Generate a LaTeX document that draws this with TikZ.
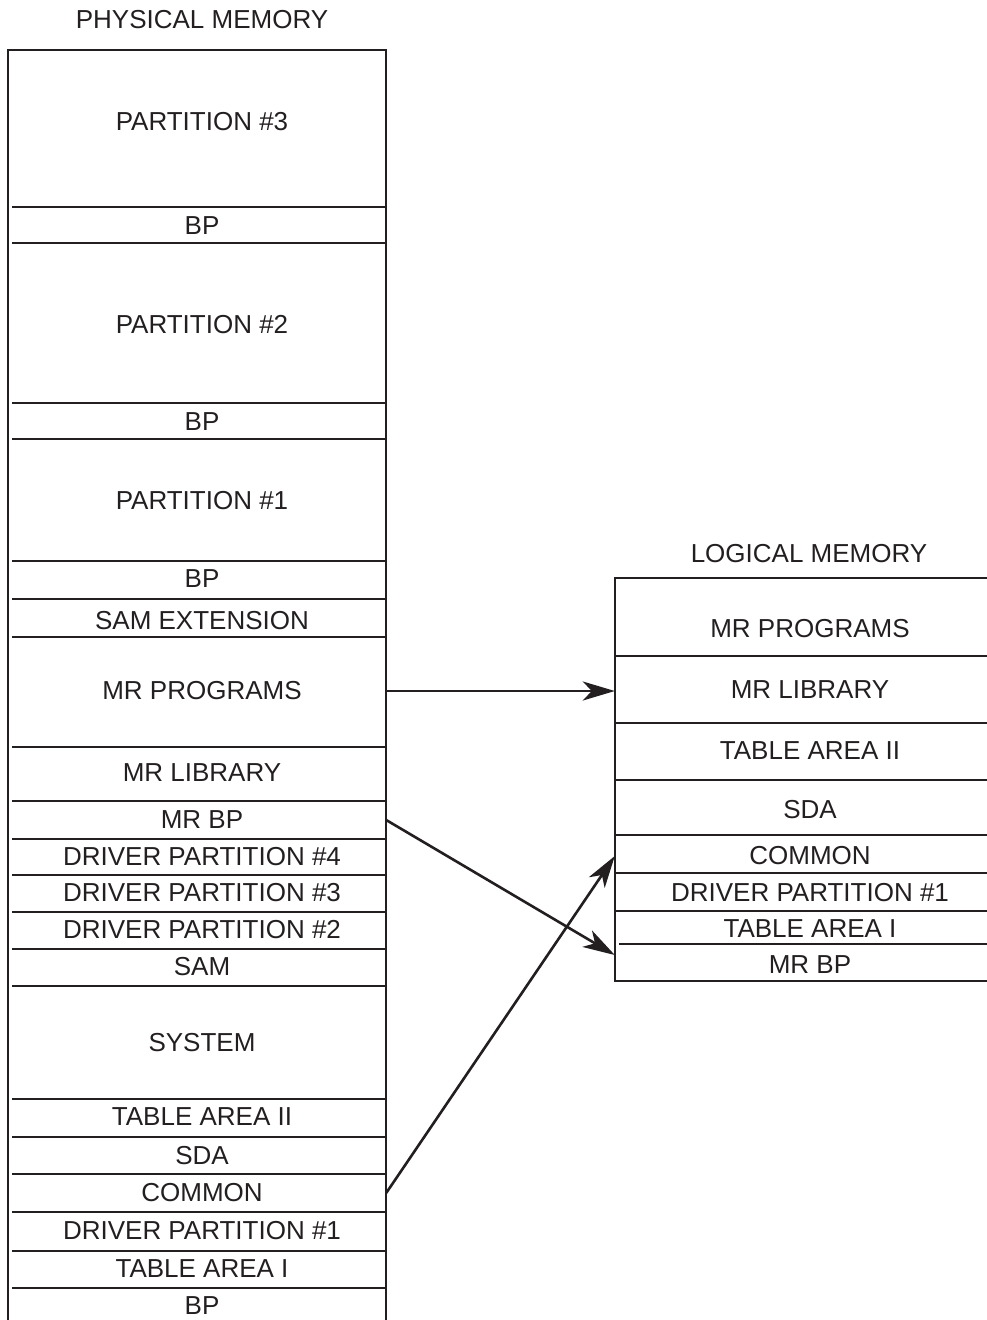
\documentclass[tikz,border=0pt]{standalone}
\usepackage{fontspec}
\setmainfont{Liberation Sans}
\usetikzlibrary{arrows.meta}
\definecolor{ink}{HTML}{231F20}
\begin{document}
\begin{tikzpicture}[x=1pt,y=-1pt, color=ink,
  lbl/.style={inner sep=0pt, text=ink, font=\fontsize{26}{31}\selectfont},
  pcell/.style={lbl, minimum width=368pt},
  lcell/.style={lbl, minimum width=390pt},
  wall/.style={draw=ink, line width=2.8pt, line cap=rect},
  sep/.style={draw=ink, line width=2.8pt},
  conn/.style={draw=ink, line width=2.6pt, -{Stealth[length=32pt,width=19pt,inset=9pt]}}]
\useasboundingbox (0,0) rectangle (986,1320);
% physical memory column
\draw[wall] (8,1322) -- (8,50) -- (386,50) -- (386,1322);
\foreach \y in {207,243,403,439,561,599,637,747,801,839,875,912,949,986,1099,1137,1174,1212,1251,1288}
  \draw[sep] (12,\y) -- (386,\y);
% logical memory column
\draw[wall] (988,578) -- (615,578) -- (615,981) -- (988,981);
\foreach \y in {656,723,780,835,873,911}
  \draw[sep] (615,\y) -- (988,\y);
\draw[sep] (619,944) -- (988,944);
% titles
\node[lbl] (ptitle) at (202,20) {PHYSICAL MEMORY};
\node[lbl] (ltitle) at (809,554) {LOGICAL MEMORY};
% physical cells
\node[pcell] (pP3) at (202,122) {PARTITION \#3};
\node[pcell] (pBP3) at (202,226) {BP};
\node[pcell] (pP2) at (202,325) {PARTITION \#2};
\node[pcell] (pBP2) at (202,422) {BP};
\node[pcell] (pP1) at (202,501) {PARTITION \#1};
\node[pcell] (pBP1) at (202,579) {BP};
\node[pcell] (pSAMX) at (202,621) {SAM EXTENSION};
\node[pcell] (pMRP) at (202,691) {MR PROGRAMS};
\node[pcell] (pMRL) at (202,773) {MR LIBRARY};
\node[pcell] (pMRBP) at (202,820) {MR BP};
\node[pcell] (pDP4) at (202,857) {DRIVER PARTITION \#4};
\node[pcell] (pDP3) at (202,893) {DRIVER PARTITION \#3};
\node[pcell] (pDP2) at (202,930) {DRIVER PARTITION \#2};
\node[pcell] (pSAM) at (202,967) {SAM};
\node[pcell] (pSYS) at (202,1043) {SYSTEM};
\node[pcell] (pTA2) at (202,1117) {TABLE AREA II};
\node[pcell] (pSDA) at (202,1156) {SDA};
\node[pcell] (pCOM) at (202,1193) {COMMON};
\node[pcell] (pDP1) at (202,1231) {DRIVER PARTITION \#1};
\node[pcell] (pTA1) at (202,1269) {TABLE AREA I};
\node[pcell] (pBP0) at (202,1306) {BP};
% logical cells
\node[lcell] (lMRP) at (810,629) {MR PROGRAMS};
\node[lcell] (lMRL) at (810,690) {MR LIBRARY};
\node[lcell] (lTA2) at (810,751) {TABLE AREA II};
\node[lcell] (lSDA) at (810,810) {SDA};
\node[lcell] (lCOM) at (810,856) {COMMON};
\node[lcell] (lDP1) at (810,893) {DRIVER PARTITION \#1};
\node[lcell] (lTA1) at (810,929) {TABLE AREA I};
\node[lcell] (lMRBP) at (810,965) {MR BP};
% connectors
\draw[conn] (pMRP.east) -- (pMRP.east -| lMRL.west);
\draw[conn] (pMRBP.east) -- ([yshift=10pt]lMRBP.west);
\draw[conn] (pCOM.east) -- (lCOM.west);
\end{tikzpicture}
\end{document}
